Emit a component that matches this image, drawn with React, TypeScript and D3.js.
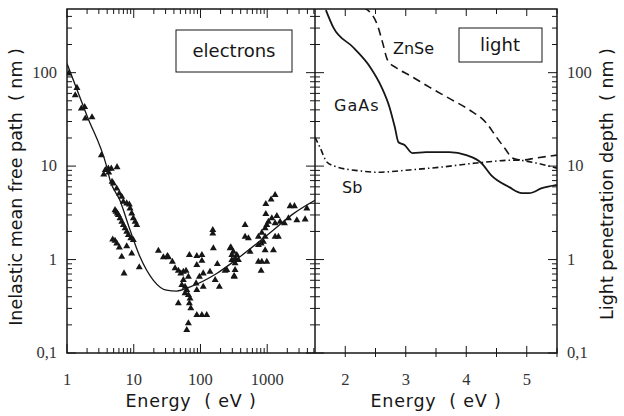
import React from 'react';
import * as d3 from 'd3';

// electrons: universal curve (energy eV, IMFP nm)
const curveEnergy = [1, 2, 3.94, 4.41, 6.2, 8.8, 12.4, 19.7, 31, 44, 70, 175, 390, 1240, 2480, 5200];
const curveImfp = [125, 34.4, 9.8, 7.1, 4.3, 2.07, 1.07, 0.6, 0.47, 0.46, 0.51, 0.71, 1.07, 2.07, 3.1, 4.3];

// electrons: measured points
const ptEnergy = [
  1.06, 1.41, 1.33, 1.64, 1.84, 1.88, 2.37, 3.27, 3.75, 3.55, 4.61, 5.62, 4.22, 4.73, 4.16, 4.94, 5.56, 6.08, 6.61, 6.98,
  7.85, 8.59, 8.8, 9.33, 9.86, 10.5, 11.1, 5.24, 5.43, 5.68, 5.88, 6.23, 6.61, 6.98, 7.41, 7.85, 8.3, 9.02, 9.86, 4.84,
  5.24, 5.56, 6.08, 7.85, 9.33, 6.61, 12.1, 7.16, 23.4, 27.8, 33, 31.9, 37.9, 68.2, 88.1, 105, 105, 88.1, 156, 285,
  311, 350, 295, 330, 41.6, 46.6, 50.7, 55.4, 60.8, 65.9, 55.4, 52.5, 58.8, 62.3, 58.8, 65.9, 69.8, 68.2, 71.6, 110,
  96.4, 85.9, 88.1, 110, 139, 179, 234, 319, 166, 192, 46.6, 88.1, 105, 124, 65.9, 62.3, 1313, 1143, 953, 2204,
  2557, 3924, 953, 1393, 1172, 1042, 986, 1313, 1560, 1811, 2080, 2780, 3700, 466, 931, 830, 738, 931, 1313, 1472,
  466, 523, 877, 738, 810, 931, 1239, 554, 278, 295, 330, 370, 248, 330, 322, 738, 830, 986, 810, 153, 153,
];
const ptImfp = [
  98, 68.7, 57.4, 41.4, 43, 32.4, 33.4, 13.1, 9.06, 8.15, 9.4, 9.75, 8.57, 6.79, 9.4, 6.53, 5.77, 5.1, 4.69, 4.15,
  3.99, 3.89, 3.53, 3.12, 2.76, 2.54, 2.34, 3.38, 3.24, 3.12, 2.99, 2.76, 2.54, 2.34, 2.16, 1.98, 1.83, 1.69, 1.62, 1.64,
  1.59, 1.49, 1.35, 1.39, 1.16, 1.07, 0.826, 0.711, 1.24, 1.06, 1.06, 1.09, 0.947, 1.12, 1.09, 1.12, 0.971, 0.873, 1.32, 1.35,
  1.21, 1.12, 0.988, 0.911, 0.805, 0.759, 0.711, 0.741, 0.759, 0.655, 0.604, 0.533, 0.512, 0.472, 0.435, 0.417, 0.384, 0.34, 0.301, 0.711,
  0.655, 0.556, 0.472, 0.512, 0.741, 0.895, 0.759, 0.668, 0.604, 0.512, 0.34, 0.255, 0.255, 0.255, 0.208, 0.176, 4.9, 4.4, 3.92, 3.73,
  3.73, 3.53, 3.07, 2.92, 2.76, 2.54, 2.34, 2.44, 2.54, 2.44, 2.76, 2.64, 2.69, 2.34, 2.16, 1.94, 1.75, 1.75, 1.75, 1.75,
  1.75, 1.69, 1.55, 1.43, 1.49, 1.26, 1.26, 1.21, 1.32, 1.12, 1.03, 0.988, 0.773, 0.773, 0.655, 0.947, 0.947, 0.947, 0.759, 2.07, 1.9,
];

// light: penetration depth (photon energy eV, depth nm)
const gaasEnergy = [1.68, 1.8, 2.13, 2.41, 2.6, 2.73, 2.82, 2.88, 2.98, 3.11, 3.34, 3.72, 4.0, 4.25, 4.41, 4.71, 4.92, 5.04, 5.25, 5.5];
const gaasDepth = [466, 307, 187, 115, 70, 43, 26, 18, 16.8, 13.8, 14.1, 14.1, 13.1, 10.8, 8.0, 5.96, 5.14, 5.14, 5.8, 6.3];
const znseEnergy = [2.3, 2.52, 2.62, 2.7, 2.85, 3.06, 3.39, 3.72, 4.05, 4.33, 4.5, 4.66, 4.76, 4.92, 5.15, 5.5];
const znseDepth = [500, 338, 207, 136, 112, 94, 70, 53, 40, 29, 20.4, 14.8, 12.2, 11.6, 12.2, 13.1];
const sbEnergy = [1.5, 1.58, 1.7, 1.86, 2.24, 2.52, 3.06, 3.61, 4.17, 4.83, 5.15, 5.5];
const sbDepth = [20.4, 16, 11, 9.8, 8.9, 8.6, 9.1, 9.8, 10.8, 11.6, 10.8, 9.5];

const yMajor = [100, 10, 1, 0.1];
const yMajorLabels = ['100', '10', '1', '0,1'];
const xLeftLabels = [1, 10, 100, 1000];
const xRightLabels = [2, 3, 4, 5];

const W = 624, H = 416;
const L = 67, M = 315, R = 557, T = 9, B = 353;
const INK = '#161616';
const SERIF = '"Liberation Serif", "DejaVu Serif", serif';
const SANS = '"DejaVu Sans", "Noto Sans", sans-serif';

export default function App() {
  const xL = d3.scaleLog().domain([1, 5200]).range([L, M]);
  const xR = d3.scaleLinear().domain([1.5, 5.5]).range([M, R]);
  const y = d3.scaleLog().domain([0.1, 480]).range([B, T]);

  const isMajor = (v: number) => Math.abs(Math.log10(v) - Math.round(Math.log10(v))) < 1e-6;
  const yTicks = y.ticks();
  const xLTicks = xL.ticks();
  const xRTicks = d3.range(2, 5.51, 0.5);

  const elecLine = d3.line<number>()
    .x((d, i) => xL(curveEnergy[i]))
    .y(d => y(d))
    .curve(d3.curveMonotoneX);

  const lightLine = (xs: number[]) => d3.line<number>()
    .x((d, i) => xR(xs[i]))
    .y(d => y(d))
    .curve(d3.curveMonotoneX);

  const tri = d3.symbol(d3.symbolTriangle, 21)() as string;

  return (
    <div style={{ position: 'absolute', left: 0, top: 0 }}>
      <svg width={W} height={H} style={{ display: 'block', background: '#fff' }}>
        <defs>
          <clipPath id="clipR"><rect x={M} y={T} width={R - M} height={B - T} /></clipPath>
          <clipPath id="clipL"><rect x={L} y={T} width={M - L} height={B - T} /></clipPath>
        </defs>

        {/* ticks */}
        <g stroke={INK} strokeWidth={1}>
          {yTicks.map((v, i) => {
            const len = isMajor(v) ? 9 : 5;
            return (
              <g key={'yl' + i}>
                <line x1={L} x2={L + len} y1={y(v)} y2={y(v)} />
                <line x1={M - len} x2={M + len} y1={y(v)} y2={y(v)} />
                <line x1={R - len} x2={R} y1={y(v)} y2={y(v)} />
              </g>
            );
          })}
          {xLTicks.map((v, i) => {
            const len = isMajor(v) ? 9 : 5;
            return (
              <g key={'xl' + i}>
                <line x1={xL(v)} x2={xL(v)} y1={T} y2={T + len} />
                <line x1={xL(v)} x2={xL(v)} y1={B} y2={B - len} />
              </g>
            );
          })}
          {xRTicks.map((v, i) => {
            const len = Number.isInteger(v) ? 7 : 5;
            return (
              <g key={'xr' + i}>
                <line x1={xR(v)} x2={xR(v)} y1={T} y2={T + len} />
                <line x1={xR(v)} x2={xR(v)} y1={B - len} y2={B + 4} />
              </g>
            );
          })}
        </g>

        {/* frames */}
        <rect x={L} y={T} width={R - L} height={B - T} fill="none" stroke={INK} strokeWidth={1.5} />
        <line x1={M} x2={M} y1={T} y2={B} stroke={INK} strokeWidth={1.5} />

        {/* electrons */}
        <g clipPath="url(#clipL)">
          <path d={elecLine(curveImfp) || ''} fill="none" stroke={INK} strokeWidth={1.3} />
          {ptEnergy.map((e, i) => (
            <path key={'p' + i} d={tri} transform={`translate(${xL(e)},${y(ptImfp[i])})`} fill={INK} />
          ))}
        </g>

        {/* light */}
        <g clipPath="url(#clipR)" fill="none" stroke={INK}>
          <path d={lightLine(gaasEnergy)(gaasDepth) || ''} strokeWidth={1.8} />
          <path d={lightLine(znseEnergy)(znseDepth) || ''} strokeWidth={1.6} strokeDasharray="8 5" />
          <path d={lightLine(sbEnergy)(sbDepth) || ''} strokeWidth={1.6} strokeDasharray="6 3 1.5 3" />
        </g>

        {/* legend boxes */}
        <rect x={176} y={30} width={116} height={42} fill="#fff" stroke={INK} strokeWidth={1} />
        <text x={234} y={57} textAnchor="middle" fontFamily={SANS} fontSize={18} fill={INK}>electrons</text>
        <rect x={459} y={28} width={83} height={34} fill="#fff" stroke={INK} strokeWidth={1} />
        <text x={500} y={51} textAnchor="middle" fontFamily={SANS} fontSize={18} fill={INK}>light</text>

        {/* curve labels */}
        <g fontFamily={SANS} fontSize={16} fill={INK}>
          <text x={393} y={54}>ZnSe</text>
          <text x={334} y={111} letterSpacing={1}>GaAs</text>
          <text x={342} y={193}>Sb</text>
        </g>

        {/* tick labels */}
        <g fontFamily={SERIF} fontSize={16.5} fill="#333">
          {yMajor.map((v, i) => (
            <text key={'yll' + i} x={57} y={y(v) + 5} textAnchor="end">{yMajorLabels[i]}</text>
          ))}
          {yMajor.map((v, i) => (
            <text key={'yrl' + i} x={567} y={y(v) + 5} textAnchor="start">{yMajorLabels[i]}</text>
          ))}
          {xLeftLabels.map((v, i) => (
            <text key={'xll' + i} x={xL(v)} y={385} textAnchor="middle">{v}</text>
          ))}
          {xRightLabels.map((v, i) => (
            <text key={'xrl' + i} x={xR(v)} y={385} textAnchor="middle">{v}</text>
          ))}
        </g>

        {/* axis titles */}
        <g fontFamily={SANS} fontSize={17.5} fill={INK}>
          <text x={(L + M) / 2} y={407} textAnchor="middle" letterSpacing={0.8} xmlSpace="preserve">Energy  ( eV )</text>
          <text x={(M + R) / 2} y={407} textAnchor="middle" letterSpacing={0.8} xmlSpace="preserve">Energy  ( eV )</text>
          <text transform={`translate(22,187) rotate(-90)`} textAnchor="middle" xmlSpace="preserve">Inelastic mean free path  ( nm )</text>
          <text transform={`translate(613,184) rotate(-90)`} textAnchor="middle" xmlSpace="preserve">Light penetration depth  ( nm )</text>
        </g>
      </svg>
    </div>
  );
}
